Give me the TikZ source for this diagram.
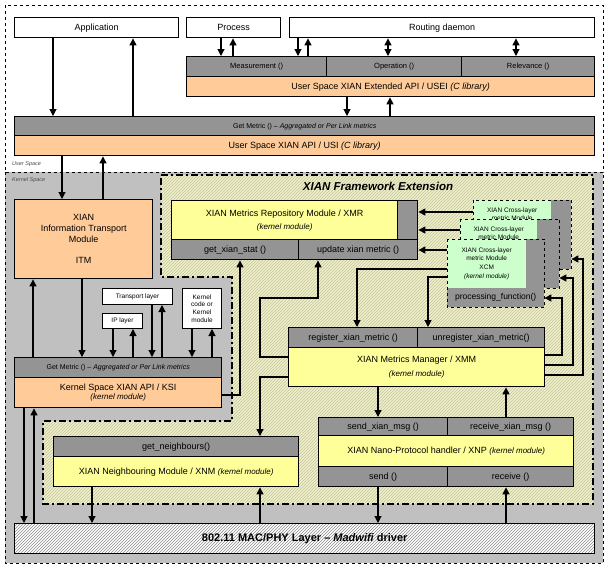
\documentclass[tikz,border=0pt]{standalone}
\usepackage{fontspec}
\setmainfont{Liberation Sans}
\usetikzlibrary{arrows.meta,patterns}
\definecolor{cgray}{RGB}{148,148,148}
\definecolor{kgray}{RGB}{192,192,192}
\definecolor{corange}{RGB}{255,204,153}
\definecolor{cyellow}{RGB}{255,255,153}
\definecolor{cgreen}{RGB}{204,255,204}
\definecolor{fwfill}{RGB}{240,240,200}
\definecolor{fwhatch}{RGB}{196,196,160}
\tikzset{
 box/.style={draw, line width=1.4pt, anchor=north west, inner sep=0pt, align=center, font=\fontsize{9}{11}\selectfont},
 gbox/.style={box, fill=cgray},
 obox/.style={box, fill=corange},
 ybox/.style={box, fill=cyellow},
 wbox/.style={box, fill=white},
 sbox/.style={draw, line width=1pt, fill=white, anchor=north west, inner sep=0pt, align=center, font=\fontsize{6.5}{7.7}\selectfont},
 arr/.style={line width=1.1pt, -{Triangle[width=7pt,length=7pt]}},
 darr/.style={line width=1.1pt, {Triangle[width=7pt,length=7pt]}-{Triangle[width=7pt,length=7pt]}},
 fwline/.style={line width=1.8pt, dash pattern=on 7pt off 3pt on 2pt off 3pt},
 xcmout/.style={fill=cgray, anchor=north west, inner sep=0pt},
 xcmin/.style={fill=cgreen, anchor=north west, inner sep=0pt, align=center, font=\fontsize{6.5}{7.5}\selectfont},
 xcmt/.style={inner sep=0pt, align=center, font=\fontsize{6.5}{7.5}\selectfont},
 xcmborder/.style={dashed, line width=0.9pt},
 lbl/.style={anchor=west, inner sep=0pt, font=\fontsize{5.5}{6}\selectfont\itshape, text=black!70}
}
\newcommand{\kmod}{{\fontsize{8}{9}\selectfont\itshape (kernel module)}}
\begin{document}
\begin{tikzpicture}[x=1pt,y=-1pt]
\useasboundingbox (0,0) rectangle (608,568);
% spaces
\draw[dashed, line width=0.6pt, fill=white] (5,5) rectangle (603,172);
\draw[dashed, line width=0.6pt, fill=kgray] (5,172) rectangle (603,563);
\node[lbl] (uslbl) at (12,164) {User Space};
\node[lbl] (kslbl) at (12,180) {Kernel Space};
% framework extension region
\fill[fwfill] (161,175) -- (593,175) -- (593,504) -- (43,504) -- (43,421) -- (232,421) -- (232,277) -- (161,277) -- cycle;
\fill[pattern=north east lines, pattern color=fwhatch] (161,175) -- (593,175) -- (593,504) -- (43,504) -- (43,421) -- (232,421) -- (232,277) -- (161,277) -- cycle;
\draw[fwline] (161,175) -- (593,175) -- (593,504) -- (43,504) -- (43,421) -- (232,421) -- (232,277) -- (161,277) -- cycle;
\node[inner sep=0pt, font=\fontsize{11.5}{13}\selectfont\bfseries\itshape] (fwlbl) at (378,186) {XIAN Framework Extension};

% user space boxes
\node[wbox, minimum width=164pt, minimum height=20pt] (app) at (14,17) {Application};
\node[wbox, minimum width=94pt, minimum height=20pt] (proc) at (186,17) {Process};
\node[wbox, minimum width=305pt, minimum height=20pt] (rd) at (289,17) {Routing daemon};
\node[gbox, font=\fontsize{7.5}{9}\selectfont, minimum width=140pt, minimum height=20pt] (meas) at (186,56) {Measurement ()};
\node[gbox, font=\fontsize{7.5}{9}\selectfont, minimum width=135pt, minimum height=20pt] (op) at (326,56) {Operation ()};
\node[gbox, font=\fontsize{7.5}{9}\selectfont, minimum width=133pt, minimum height=20pt] (rel) at (461,56) {Relevance ()};
\node[obox, minimum width=408pt, minimum height=20pt] (usei) at (186,76) {User Space XIAN Extended API / USEI {\itshape (C library)}};
\node[gbox, font=\fontsize{7}{8}\selectfont, minimum width=580pt, minimum height=19pt] (usig) at (14,116) {Get Metric () – {\itshape Aggregated or Per Link metrics}};
\node[obox, minimum width=580pt, minimum height=20pt] (usi) at (14,135) {User Space XIAN API / USI {\itshape (C library)}};

% kernel side left
\node[obox, minimum width=138pt, minimum height=79pt] (itm) at (14,199) {XIAN\\Information Transport\\Module\\[10pt]ITM};
\node[sbox, minimum width=70pt, minimum height=16pt] (tl) at (102,288) {Transport layer};
\node[sbox, minimum width=40pt, minimum height=15pt] (ip) at (102,313) {IP layer};
\node[sbox, minimum width=39pt, minimum height=40pt] (kc) at (182,288) {Kernel\\code or\\Kernel\\module};
\node[gbox, font=\fontsize{7}{8}\selectfont, minimum width=207pt, minimum height=20pt] (ksig) at (14,357) {Get Metric () – {\itshape Aggregated or Per Link metrics}};
\node[obox, font=\fontsize{9}{9.5}\selectfont, minimum width=207pt, minimum height=30pt] (ksi) at (14,377) {Kernel Space XIAN API / KSI\\\kmod};

% XMR
\node[ybox, minimum width=226pt, minimum height=39pt] (xmr) at (171,200) {XIAN Metrics Repository Module / XMR\\[2pt]\kmod};
\node[gbox, minimum width=20pt, minimum height=39pt] (xmrs) at (397,200) {};
\node[gbox, minimum width=127pt, minimum height=20pt] (xstat) at (171,239) {get\_xian\_stat ()};
\node[gbox, minimum width=119pt, minimum height=20pt] (xupd) at (298,239) {update xian metric ()};

% XCM stack
\node[xcmout, minimum width=98pt, minimum height=69pt] (xcm3) at (473,200) {};
\node[xcmin, minimum width=78pt, minimum height=50pt] (xcm3g) at (473,200) {};
\node[xcmt, anchor=north] (xcm3t) at ([yshift=-8pt]xcm3g.north) {XIAN Cross-layer\\metric Module};
\draw[xcmborder] (xcm3.north west) rectangle (xcm3.south east);
\node[xcmout, minimum width=99pt, minimum height=69pt] (xcm2) at (460,219) {};
\node[xcmin, minimum width=77pt, minimum height=50pt] (xcm2g) at (460,219) {};
\node[xcmt, anchor=north] (xcm2t) at ([yshift=-8pt]xcm2g.north) {XIAN Cross-layer\\metric Module};
\draw[xcmborder] (xcm2.north west) rectangle (xcm2.south east);
\node[xcmout, minimum width=97pt, minimum height=68pt] (xcm1) at (447,239) {};
\node[xcmin, minimum width=79pt, minimum height=49pt] (xcm1g) at (447,239) {XIAN Cross-layer\\metric Module\\[2pt]XCM\\[1pt]{\itshape (kernel module)}};
\node[anchor=north west, inner sep=0pt, minimum width=97pt, minimum height=19pt, font=\fontsize{8.5}{10}\selectfont] (pf) at (447,288) {processing\_function()};
\draw[xcmborder] (xcm1.north west) rectangle (xcm1.south east);

% XMM
\node[gbox, minimum width=129pt, minimum height=20pt] (reg) at (288,327) {register\_xian\_metric ()};
\node[gbox, minimum width=127pt, minimum height=20pt] (unreg) at (417,327) {unregister\_xian\_metric()};
\node[ybox, minimum width=256pt, minimum height=39pt] (xmm) at (288,347) {XIAN Metrics Manager / XMM\\[3pt]\kmod};

% XNM
\node[gbox, minimum width=245pt, minimum height=20pt] (gn) at (53,436) {get\_neighbours()};
\node[ybox, minimum width=245pt, minimum height=30pt] (xnm) at (53,456) {XIAN Neighbouring Module / XNM \kmod};

% XNP
\node[gbox, minimum width=129pt, minimum height=18pt] (sxm) at (318,417) {send\_xian\_msg ()};
\node[gbox, minimum width=126pt, minimum height=18pt] (rxm) at (447,417) {receive\_xian\_msg ()};
\node[ybox, minimum width=255pt, minimum height=31pt] (xnp) at (318,435) {XIAN Nano-Protocol handler / XNP \kmod};
\node[gbox, minimum width=129pt, minimum height=20pt] (snd) at (318,466) {send ()};
\node[gbox, minimum width=126pt, minimum height=20pt] (rcv) at (447,466) {receive ()};

% MAC
\node[box, preaction={fill=white}, pattern=north east lines, pattern color=black!45, minimum width=580pt, minimum height=30pt, font=\fontsize{11}{13}\selectfont\bfseries] (mac) at (14,523) {802.11 MAC/PHY Layer – {\itshape Madwifi} driver};

% connectors: user space
\draw[arr] (app.south -| 53,0) -- (usig.north -| 53,0);
\draw[arr] (usig.north -| 133,0) -- (app.south -| 133,0);
\draw[arr] (proc.south -| 221,0) -- (meas.north -| 221,0);
\draw[arr] (meas.north -| 233,0) -- (proc.south -| 233,0);
\draw[arr] (rd.south -| 298,0) -- (meas.north -| 298,0);
\draw[arr] (meas.north -| 308,0) -- (rd.south -| 308,0);
\draw[darr] (rd.south -| 388,0) -- (op.north -| 388,0);
\draw[darr] (rd.south -| 516,0) -- (rel.north -| 516,0);
\draw[arr] (usei.south -| 347,0) -- (usig.north -| 347,0);
\draw[arr] (usig.north -| 390,0) -- (usei.south -| 390,0);
\draw[arr] (usi.south -| 62,0) -- (itm.north -| 62,0);
\draw[arr] (itm.north -| 103,0) -- (usi.south -| 103,0);

% kernel left
\draw[arr] (itm.south -| 82,0) -- (ksig.north -| 82,0);
\draw[arr] (ksig.north -| 33,0) -- (itm.south -| 33,0);
\draw[arr] (ip.south -| 113,0) -- (ksig.north -| 113,0);
\draw[arr] (ksig.north -| 133,0) -- (ip.south -| 133,0);
\draw[arr] (tl.south -| 152,0) -- (ksig.north -| 152,0);
\draw[arr] (ksig.north -| 162,0) -- (tl.south -| 162,0);
\draw[arr] (kc.south -| 192,0) -- (ksig.north -| 192,0);
\draw[arr] (ksig.north -| 212,0) -- (kc.south -| 212,0);
\draw[arr] (ksi.south -| 24,0) -- (mac.north -| 24,0);
\draw[arr] (mac.north -| 34,0) -- (ksi.south -| 34,0);
\draw[arr] (ksi.east |- 0,395) -| (xstat.south -| 240,0);

% framework
\draw[arr] (xcm3.west |- 0,212) -- (xmrs.east |- 0,212);
\draw[arr] (xcm2.west |- 0,230) -- (xmrs.east |- 0,230);
\draw[arr] (xcm1.west |- 0,250) -- (xupd.east |- 0,250);
\draw[arr] (xcm1.west |- 0,269) -| (reg.north -| 357,0);
\draw[arr] (xcm1.west |- 0,277) -| (unreg.north -| 428,0);
\draw[arr] (xmm.east |- 0,355) -- (562,355) -- (562,298) -- (xcm1.east |- 0,298);
\draw[arr] (xmm.east |- 0,365) -- (573,365) -- (573,278) -- (xcm2.east |- 0,278);
\draw[arr] (xmm.east |- 0,375) -- (583,375) -- (583,259) -- (xcm3.east |- 0,259);
\draw[arr] (xmm.west |- 0,357) -- (260,357) -- (260,298) -- (318,298) -- (xupd.south -| 318,0);
\draw[arr] (xmm.west |- 0,377) -| (gn.north -| 260,0);
\draw[arr] (xmm.south -| 378,0) -- (sxm.north -| 378,0);
\draw[arr] (rxm.north -| 506,0) -- (xmm.south -| 506,0);
\draw[arr] (snd.south -| 378,0) -- (mac.north -| 378,0);
\draw[arr] (mac.north -| 506,0) -- (rcv.south -| 506,0);
\draw[arr] (xnm.south -| 92,0) -- (mac.north -| 92,0);
\draw[arr] (mac.north -| 260,0) -- (xnm.south -| 260,0);
\end{tikzpicture}
\end{document}
